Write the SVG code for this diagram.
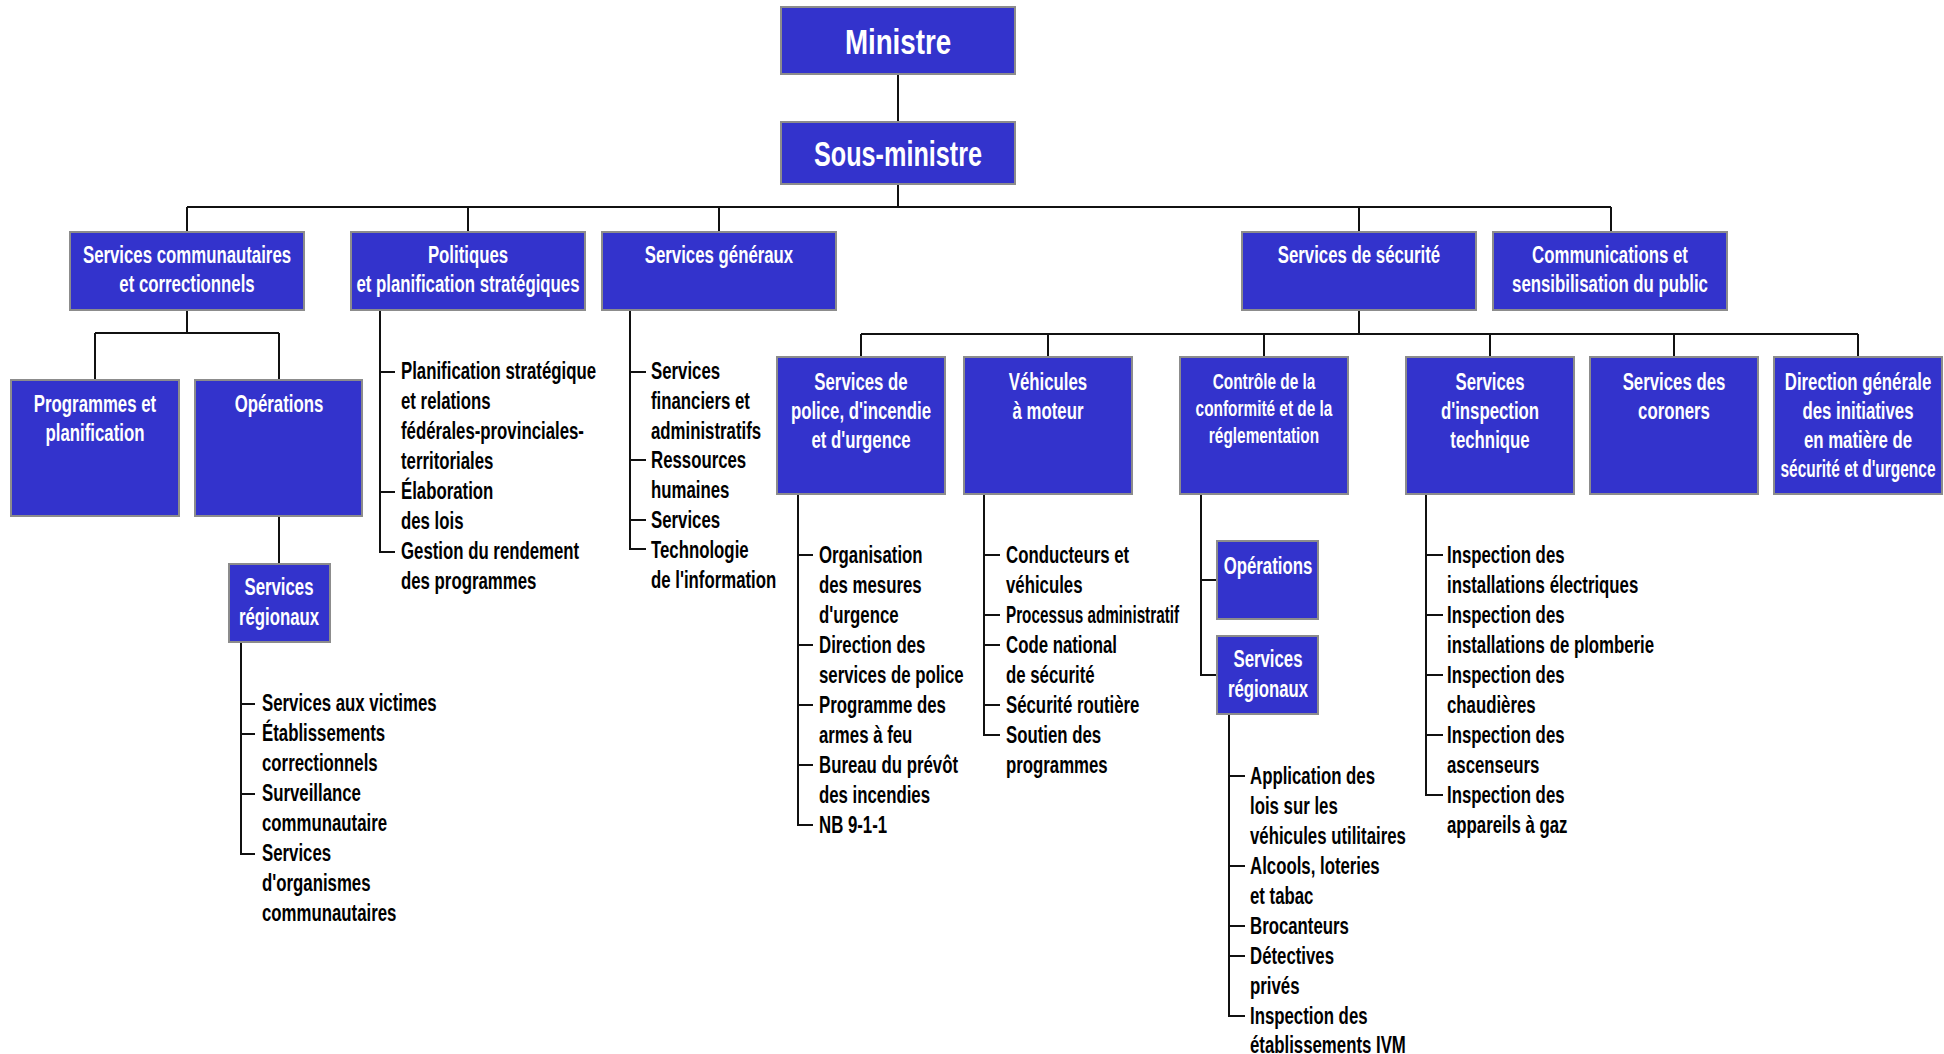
<svg xmlns="http://www.w3.org/2000/svg" width="1944" height="1054" viewBox="0 0 1944 1054">
<style>
.b{fill:#3333cc;stroke:#8c8c8c;stroke-width:2}
.c{fill:none;stroke:#111;stroke-width:2}
.w{fill:#fff;font-family:"Liberation Sans",Arial,sans-serif;font-weight:bold;font-size:24px;text-anchor:middle}
.k{fill:#000;font-family:"Liberation Sans",Arial,sans-serif;font-weight:bold;font-size:24px;text-anchor:start}
.big{font-size:36px}
.sm{font-size:22px}
</style>
<rect width="1944" height="1054" fill="#fff"/>
<g id="connectors">
<path class="c" d="M898 74V122M898 184V207M187 207H1611M187 207V232M468 207V232M719 207V232M1359 207V232M1611 207V232"/>
<path class="c" d="M187 310V333M95 333H279M95 333V380M279 333V380M279 516V564"/>
<path class="c" d="M241 642V854H255M241 704H255M241 734H255M241 794H255"/>
<path class="c" d="M380 310V552H395M380 372H395M380 492H395"/>
<path class="c" d="M630 310V549H646M630 372H646M630 460H646M630 520H646"/>
<path class="c" d="M1359 310V334M861 334H1858M861 334V357M1048 334V357M1264 334V357M1490 334V357M1674 334V357M1858 334V357"/>
<path class="c" d="M798 494V825H813M798 555H813M798 645H813M798 705H813M798 765H813"/>
<path class="c" d="M984 494V735H1000M984 555H1000M984 615H1000M984 645H1000M984 705H1000"/>
<path class="c" d="M1201 494V675H1217M1201 580H1217"/>
<path class="c" d="M1229 714V1016H1245M1229 776H1245M1229 866H1245M1229 926H1245M1229 956H1245"/>
<path class="c" d="M1426 494V795H1443M1426 555H1443M1426 615H1443M1426 675H1443M1426 735H1443"/>
</g>
<g id="ministre"><rect class="b" x="781" y="7" width="234" height="67"/><text class="w big" transform="translate(898,54) scale(0.77,1)">Ministre</text></g>
<g id="sous-ministre"><rect class="b" x="781" y="122" width="234" height="62"/><text class="w big" transform="translate(898,166) scale(0.7,1)">Sous-ministre</text></g>
<g id="services-communautaires"><rect class="b" x="70" y="232" width="234" height="78"/><text class="w" transform="translate(187,263) scale(0.7,1)"><tspan x="0">Services communautaires</tspan><tspan x="0" dy="29.5">et correctionnels</tspan></text></g>
<g id="politiques"><rect class="b" x="351" y="232" width="234" height="78"/><text class="w" transform="translate(468,263) scale(0.7,1)"><tspan x="0">Politiques</tspan><tspan x="0" dy="29">et planification stratégiques</tspan></text></g>
<g id="services-generaux"><rect class="b" x="602" y="232" width="234" height="78"/><text class="w" transform="translate(719,263) scale(0.7,1)">Services généraux</text></g>
<g id="services-securite"><rect class="b" x="1242" y="232" width="234" height="78"/><text class="w" transform="translate(1359,263) scale(0.7,1)">Services de sécurité</text></g>
<g id="communications"><rect class="b" x="1493" y="232" width="234" height="78"/><text class="w" transform="translate(1610,263) scale(0.7,1)"><tspan x="0">Communications et</tspan><tspan x="0" dy="29">sensibilisation du public</tspan></text></g>
<g id="programmes"><rect class="b" x="11" y="380" width="168" height="136"/><text class="w" transform="translate(95,412) scale(0.7,1)"><tspan x="0">Programmes et</tspan><tspan x="0" dy="29">planification</tspan></text></g>
<g id="operations"><rect class="b" x="195" y="380" width="167" height="136"/><text class="w" transform="translate(279,412) scale(0.7,1)">Opérations</text></g>
<g id="services-regionaux-1"><rect class="b" x="229" y="564" width="101" height="78"/><text class="w" transform="translate(279,595) scale(0.7,1)"><tspan x="0">Services</tspan><tspan x="0" dy="30">régionaux</tspan></text></g>
<g id="liste-regionaux-1"><text class="k" transform="translate(262,711) scale(0.7,1)"><tspan x="0">Services aux victimes</tspan><tspan x="0" dy="30">Établissements</tspan><tspan x="0" dy="30">correctionnels</tspan><tspan x="0" dy="30">Surveillance</tspan><tspan x="0" dy="30">communautaire</tspan><tspan x="0" dy="30">Services</tspan><tspan x="0" dy="30">d'organismes</tspan><tspan x="0" dy="30">communautaires</tspan></text></g>
<g id="liste-politiques"><text class="k" transform="translate(401,379) scale(0.7,1)"><tspan x="0">Planification stratégique</tspan><tspan x="0" dy="30">et relations</tspan><tspan x="0" dy="30">fédérales-provinciales-</tspan><tspan x="0" dy="30">territoriales</tspan><tspan x="0" dy="30">Élaboration</tspan><tspan x="0" dy="30">des lois</tspan><tspan x="0" dy="30">Gestion du rendement</tspan><tspan x="0" dy="30">des programmes</tspan></text></g>
<g id="liste-generaux"><text class="k" transform="translate(651,379) scale(0.7,1)"><tspan x="0">Services</tspan><tspan x="0" dy="29.8">financiers et</tspan><tspan x="0" dy="29.8">administratifs</tspan><tspan x="0" dy="29.8">Ressources</tspan><tspan x="0" dy="29.8">humaines</tspan><tspan x="0" dy="29.8">Services</tspan><tspan x="0" dy="29.8">Technologie</tspan><tspan x="0" dy="29.8">de l'information</tspan></text></g>
<g id="police"><rect class="b" x="777" y="357" width="168" height="137"/><text class="w" transform="translate(861,390) scale(0.7,1)"><tspan x="0">Services de</tspan><tspan x="0" dy="29">police, d'incendie</tspan><tspan x="0" dy="29">et d'urgence</tspan></text></g>
<g id="vehicules"><rect class="b" x="964" y="357" width="168" height="137"/><text class="w" transform="translate(1048,390) scale(0.7,1)"><tspan x="0">Véhicules</tspan><tspan x="0" dy="29">à moteur</tspan></text></g>
<g id="controle"><rect class="b" x="1180" y="357" width="168" height="137"/><text class="w sm" transform="translate(1264,389) scale(0.7,1)"><tspan x="0">Contrôle de la</tspan><tspan x="0" dy="27">conformité et de la</tspan><tspan x="0" dy="27">réglementation</tspan></text></g>
<g id="inspection"><rect class="b" x="1406" y="357" width="168" height="137"/><text class="w" transform="translate(1490,390) scale(0.7,1)"><tspan x="0">Services</tspan><tspan x="0" dy="29">d'inspection</tspan><tspan x="0" dy="29">technique</tspan></text></g>
<g id="coroners"><rect class="b" x="1590" y="357" width="168" height="137"/><text class="w" transform="translate(1674,390) scale(0.7,1)"><tspan x="0">Services des</tspan><tspan x="0" dy="29">coroners</tspan></text></g>
<g id="direction"><rect class="b" x="1774" y="357" width="168" height="137"/><text class="w" transform="translate(1858,390) scale(0.7,1)"><tspan x="0">Direction générale</tspan><tspan x="0" dy="29">des initiatives</tspan><tspan x="0" dy="29">en matière de</tspan></text><text class="w" transform="translate(1858,477) scale(0.645,1)">sécurité et d'urgence</text></g>
<g id="liste-police"><text class="k" transform="translate(819,563) scale(0.7,1)"><tspan x="0">Organisation</tspan><tspan x="0" dy="30">des mesures</tspan><tspan x="0" dy="30">d'urgence</tspan><tspan x="0" dy="30">Direction des</tspan><tspan x="0" dy="30">services de police</tspan><tspan x="0" dy="30">Programme des</tspan><tspan x="0" dy="30">armes à feu</tspan><tspan x="0" dy="30">Bureau du prévôt</tspan><tspan x="0" dy="30">des incendies</tspan><tspan x="0" dy="30">NB 9-1-1</tspan></text></g>
<g id="liste-vehicules"><text class="k" transform="translate(1006,563) scale(0.7,1)"><tspan x="0">Conducteurs et</tspan><tspan x="0" dy="30">véhicules</tspan></text><text class="k" transform="translate(1006,623) scale(0.636,1)">Processus administratif</text><text class="k" transform="translate(1006,653) scale(0.7,1)"><tspan x="0">Code national</tspan><tspan x="0" dy="30">de sécurité</tspan><tspan x="0" dy="30">Sécurité routière</tspan><tspan x="0" dy="30">Soutien des</tspan><tspan x="0" dy="30">programmes</tspan></text></g>
<g id="operations-2"><rect class="b" x="1217" y="541" width="101" height="78"/><text class="w" transform="translate(1268,574) scale(0.7,1)">Opérations</text></g>
<g id="services-regionaux-2"><rect class="b" x="1217" y="636" width="101" height="78"/><text class="w" transform="translate(1268,667) scale(0.7,1)"><tspan x="0">Services</tspan><tspan x="0" dy="30">régionaux</tspan></text></g>
<g id="liste-regionaux-2"><text class="k" transform="translate(1250,784) scale(0.7,1)"><tspan x="0">Application des</tspan><tspan x="0" dy="30">lois sur les</tspan><tspan x="0" dy="30">véhicules utilitaires</tspan><tspan x="0" dy="30">Alcools, loteries</tspan><tspan x="0" dy="30">et tabac</tspan><tspan x="0" dy="30">Brocanteurs</tspan><tspan x="0" dy="30">Détectives</tspan><tspan x="0" dy="30">privés</tspan><tspan x="0" dy="30">Inspection des</tspan><tspan x="0" dy="29">établissements IVM</tspan></text></g>
<g id="liste-inspection"><text class="k" transform="translate(1447,563) scale(0.7,1)"><tspan x="0">Inspection des</tspan><tspan x="0" dy="30">installations électriques</tspan><tspan x="0" dy="30">Inspection des</tspan><tspan x="0" dy="30">installations de plomberie</tspan><tspan x="0" dy="30">Inspection des</tspan><tspan x="0" dy="30">chaudières</tspan><tspan x="0" dy="30">Inspection des</tspan><tspan x="0" dy="30">ascenseurs</tspan><tspan x="0" dy="30">Inspection des</tspan><tspan x="0" dy="30">appareils à gaz</tspan></text></g>
</svg>
